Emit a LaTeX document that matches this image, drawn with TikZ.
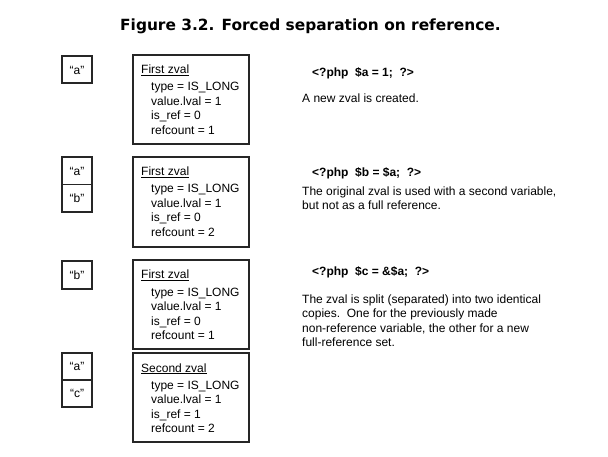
\documentclass[tikz,border=0pt]{standalone}
\usepackage{fontspec}
\setmainfont{Liberation Sans}
\newfontfamily\titlefont{DejaVu Sans}
\begin{document}
\begin{tikzpicture}[x=1pt,y=-1pt,
  box/.style={draw=black!85,line width=1.6pt},
  txt/.style={anchor=base west,inner sep=0pt,font=\fontsize{12}{14}\selectfont},
  code/.style={anchor=base west,inner sep=0pt,font=\fontsize{12}{14}\selectfont\bfseries},
  varname/.style={inner sep=0pt,font=\fontsize{12}{14}\selectfont},
  ttl/.style={anchor=base west,inner sep=0pt,font=\titlefont\fontsize{15.4}{18}\selectfont\bfseries}
]
\useasboundingbox (0,0) rectangle (608,457);
\fill[white] (0,0) rectangle (608,457);

\node[ttl] (title) at (120,31) {Figure 3.2. Forced separation on reference.};

% ---- block 1
\draw[box] (62,56) rectangle (92,83);
\node[varname] (v1a) at (77,70) {“a”};
\draw[box] (133,55) rectangle (249,144);
\node[txt] (z1h) at (141,74) {\underline{First zval}};
\node[txt] (z1a) at (151,91) {type = IS\_LONG};
\node[txt] (z1b) at (151,105.5) {value.lval = 1};
\node[txt] (z1c) at (151,120) {is\_ref = 0};
\node[txt] (z1d) at (151,134.5) {refcount = 1};
\node[code] (c1) at (312,77) {<?php\ \ \$a = 1;\ \ ?>};
\node[txt] (d1) at (302,103) {A new zval is created.};

% ---- block 2
\draw[box] (62,157) rectangle (92,212);
\draw[box] (62,184.5) -- (92,184.5);
\node[varname] (v2a) at (77,171) {“a”};
\node[varname] (v2b) at (77,198) {“b”};
\draw[box] (133,157) rectangle (249,247);
\node[txt] (z2h) at (141,176) {\underline{First zval}};
\node[txt] (z2a) at (151,193) {type = IS\_LONG};
\node[txt] (z2b) at (151,207.5) {value.lval = 1};
\node[txt] (z2c) at (151,222) {is\_ref = 0};
\node[txt] (z2d) at (151,236.5) {refcount = 2};
\node[code] (c2) at (312,177) {<?php\ \ \$b = \$a;\ \ ?>};
\node[txt] (d2a) at (302,195.5) {The original zval is used with a second variable,};
\node[txt] (d2b) at (302,210) {but not as a full reference.};

% ---- block 3
\draw[box] (62,261) rectangle (92,289);
\node[varname] (v3b) at (77,275) {“b”};
\draw[box] (133,260) rectangle (249,349);
\node[txt] (z3h) at (141,279) {\underline{First zval}};
\node[txt] (z3a) at (151,296) {type = IS\_LONG};
\node[txt] (z3b) at (151,310.5) {value.lval = 1};
\node[txt] (z3c) at (151,325) {is\_ref = 0};
\node[txt] (z3d) at (151,339.5) {refcount = 1};
\node[code] (c3) at (312,276) {<?php\ \ \$c = \&\$a;\ \ ?>};
\node[txt] (d3a) at (302,303) {The zval is split (separated) into two identical};
\node[txt] (d3b) at (302,317.5) {copies.\ \ One for the previously made};
\node[txt] (d3c) at (302,332) {non-reference variable, the other for a new};
\node[txt] (d3d) at (302,346.5) {full-reference set.};

% ---- block 4
\draw[box] (62,353) rectangle (92,407);
\draw[box] (62,380) -- (92,380);
\node[varname] (v4a) at (77,366.5) {“a”};
\node[varname] (v4c) at (77,393.5) {“c”};
\draw[box] (133,353) rectangle (249,442);
\node[txt] (z4h) at (141,372) {\underline{Second zval}};
\node[txt] (z4a) at (151,389) {type = IS\_LONG};
\node[txt] (z4b) at (151,403.5) {value.lval = 1};
\node[txt] (z4c) at (151,418) {is\_ref = 1};
\node[txt] (z4d) at (151,432.5) {refcount = 2};
\end{tikzpicture}
\end{document}
